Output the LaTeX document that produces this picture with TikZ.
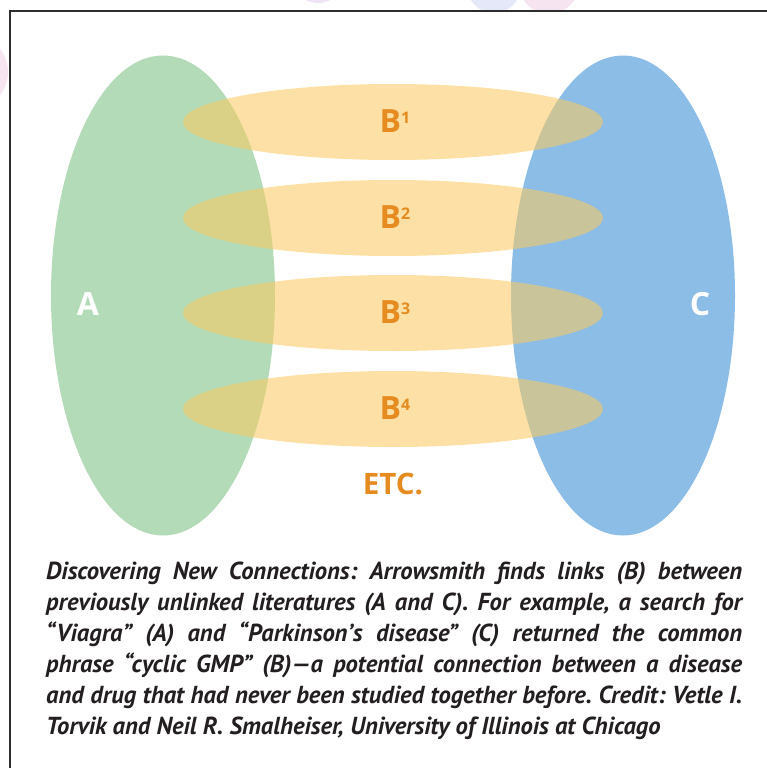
\documentclass[tikz,border=0pt]{standalone}
\usepackage{fontspec}
\setmainfont{PT Sans}
\newfontfamily\labfont{Open Sans}
\usetikzlibrary{shapes.geometric}
\definecolor{gA}{RGB}{179,219,183}
\definecolor{bC}{RGB}{139,189,230}
\definecolor{yB}{RGB}{251,202,97}
\definecolor{orB}{RGB}{229,139,32}
\definecolor{capt}{RGB}{35,31,32}
\definecolor{wmpink}{RGB}{246,228,241}
\definecolor{wmpurp}{RGB}{239,228,245}
\definecolor{wmblue}{RGB}{228,232,248}
\tikzset{
  bigell/.style={ellipse, draw=none, inner sep=0pt, minimum width=224pt, minimum height=480pt},
  bell/.style={ellipse, draw=none, fill=yB, fill opacity=0.57, inner sep=0pt, minimum width=420pt, minimum height=76pt},
  lab/.style={inner sep=0pt, anchor=base, font=\labfont\bfseries\fontsize{32}{32}\selectfont},
  blab/.style={lab, text=orB},
  capline/.style={inner sep=0pt, anchor=base west, text=capt, font=\frenchspacing\bfseries\itshape\fontsize{24.6}{31}\selectfont},
  frameline/.style={draw={rgb,255:red,45;green,45;blue,45}, line width=1.3pt}
}
\newcommand{\sups}[1]{\raisebox{9pt}{\fontsize{16}{16}\selectfont #1}}
\begin{document}
\begin{tikzpicture}[x=1pt,y=-1pt]
\useasboundingbox (0,0) rectangle (767,768);
% faint background marks outside the frame
\fill[wmpink] (-30,72) circle (38pt);
\fill[wmpurp] (318,-25) circle (28pt);
\fill[wmblue] (494,-14) circle (27pt);
\fill[wmpink] (549,-16) circle (30pt);
\fill[white] (10,11) rectangle (767,768);
\draw[frameline] (767,11) -- (10,11) -- (10,768);
% big ellipses
\node[bigell, fill=gA] (A) at (163,295.5) {};
\node[bigell, fill=bC] (C) at (623,295.5) {};
% B ellipses
\node[bell] (B1) at (393,122) {};
\node[bell] (B2) at (393,218) {};
\node[bell] (B3) at (393,313) {};
\node[bell] (B4) at (393,409) {};
% labels
\node[lab, text=white] (la) at (88,315) {A};
\node[lab, text=white] (lc) at (700,315) {C};
\node[blab] (lb1) at (395,132) {B\sups{1}};
\node[blab] (lb2) at (395,228) {B\sups{2}};
\node[blab] (lb3) at (395,323) {B\sups{3}};
\node[blab] (lb4) at (395,419) {B\sups{4}};
\node[blab, font=\labfont\bfseries\fontsize{29.5}{29.5}\selectfont] (etc) at (393,494) {ETC.};
% caption
\node[capline] (c1) at (46,579) {\makebox[696pt][s]{Discovering New Connections: Arrowsmith finds links (B) between}};
\node[capline] (c2) at (46,610) {\makebox[696pt][s]{previously unlinked literatures (A and C). For example, a search for}};
\node[capline] (c3) at (46,641) {\makebox[696pt][s]{“Viagra” (A) and “Parkinson’s disease” (C) returned the common}};
\node[capline] (c4) at (46,672) {\makebox[696pt][s]{phrase “cyclic GMP” (B)—a potential connection between a disease}};
\node[capline] (c5) at (46,703) {\makebox[696pt][s]{and drug that had never been studied together before. Credit: Vetle I.}};
\node[capline] (c6) at (46,734) {Torvik and Neil R. Smalheiser, University of Illinois at Chicago};
\end{tikzpicture}
\end{document}
